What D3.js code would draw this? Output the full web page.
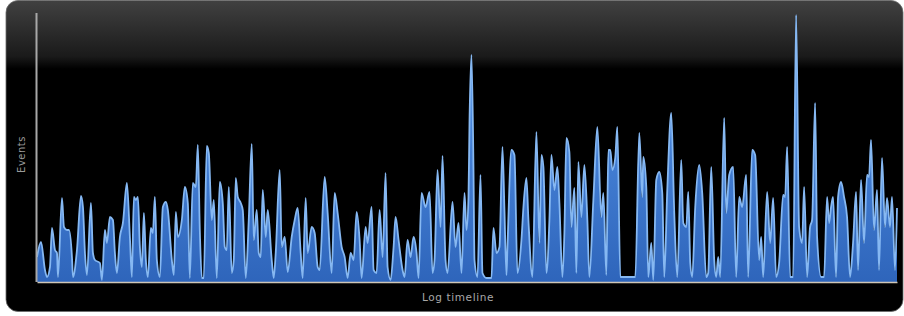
<!DOCTYPE html>
<html>
<head>
<meta charset="utf-8">
<script src="https://cdn.jsdelivr.net/npm/d3@7"></script>
<style>
  html, body { margin: 0; padding: 0; background: #ffffff; }
  #chart { width: 904px; height: 316px; }
</style>
</head>
<body>
<div id="chart"></div>
<script>
// position on the log timeline
const logTime = [
  0, 4, 8, 10, 13, 15, 18, 20, 21, 25, 27, 30, 32, 35, 36, 40, 44, 46, 48, 50,
  54, 56, 58, 63, 65, 68, 70, 73, 76, 78, 80, 83, 86, 90, 93, 95, 97, 99, 101, 103,
  105, 107, 109, 111, 114, 116, 118, 120, 123, 126, 129, 131, 135, 137, 139, 141, 145, 148, 151, 153,
  156, 159, 161, 163, 165, 167, 170, 172, 175, 177, 180, 183, 186, 188, 190, 192, 195, 197, 199, 201,
  204, 206, 209, 212, 215, 217, 220, 222, 224, 226, 229, 231, 235, 237, 239, 243, 245, 248, 251, 255,
  258, 261, 264, 266, 269, 271, 275, 278, 281, 283, 288, 291, 295, 298, 301, 305, 308, 311, 314, 317,
  320, 323, 325, 329, 331, 335, 337, 340, 343, 346, 349, 351, 354, 357, 359, 362, 366, 368, 371, 374,
  377, 380, 382, 385, 389, 393, 396, 398, 401, 404, 406, 409, 411, 416, 419, 422, 425, 428, 430, 432,
  433, 435, 437, 438, 441, 444, 446, 450, 455, 457, 460, 463, 466, 468, 470, 471, 475, 478, 481, 485,
  487, 490, 492, 496, 500, 503, 505, 507, 510, 513, 515, 518, 521, 523, 526, 528, 530, 533, 535, 538,
  540, 542, 545, 548, 551, 553, 557, 561, 565, 567, 570, 572, 574, 576, 579, 581, 584, 599, 603, 606,
  607, 610, 612, 615, 617, 620, 623, 626, 628, 631, 635, 638, 641, 645, 647, 650, 652, 654, 656, 659,
  663, 666, 670, 672, 675, 678, 680, 682, 684, 688, 690, 693, 697, 700, 703, 706, 710, 712, 716, 719,
  723, 725, 727, 731, 734, 737, 740, 743, 747, 749, 751, 754, 757, 760, 763, 766, 768, 771, 774, 776,
  779, 781, 785, 788, 791, 793, 795, 797, 800, 802, 805, 808, 811, 814, 817, 820, 822, 825, 828, 831,
  833, 835, 838, 841, 843, 846, 849, 851, 854, 856, 859, 861
];

// events counted at each position
const events = [
  25, 40, 12, 5, 15, 54, 32, 29, 5, 84, 55, 52, 52, 25, 5, 32, 86, 75, 29, 7,
  79, 29, 22, 19, 2, 52, 39, 65, 62, 29, 9, 45, 59, 99, 45, 5, 85, 82, 85, 35,
  15, 69, 22, 5, 54, 49, 85, 22, 5, 75, 80, 72, 22, 7, 70, 45, 62, 95, 79, 4,
  99, 95, 137, 52, 4, 4, 136, 129, 62, 82, 4, 100, 79, 35, 32, 95, 9, 22, 104, 85,
  79, 72, 4, 62, 138, 42, 72, 29, 25, 92, 45, 72, 22, 4, 29, 112, 35, 45, 10, 45,
  62, 74, 29, 4, 84, 29, 55, 49, 15, 12, 105, 69, 9, 89, 69, 35, 25, 4, 29, 22,
  70, 42, 4, 55, 39, 75, 12, 9, 72, 25, 109, 15, 2, 35, 65, 42, 12, 5, 42, 25,
  45, 29, 4, 89, 75, 90, 9, 22, 112, 55, 126, 22, 9, 80, 35, 59, 9, 89, 52, 85,
  159, 227, 112, 22, 5, 107, 9, 4, 4, 54, 29, 35, 135, 72, 7, 35, 132, 127, 9, 42,
  75, 104, 62, 5, 150, 39, 127, 115, 9, 62, 127, 92, 115, 79, 5, 49, 144, 130, 55, 94,
  9, 120, 65, 117, 62, 5, 82, 155, 65, 89, 7, 132, 132, 112, 125, 155, 5, 5, 149, 85,
  125, 95, 5, 39, 2, 102, 110, 89, 5, 92, 169, 69, 5, 122, 59, 55, 90, 19, 5, 75,
  117, 89, 5, 9, 115, 22, 5, 25, 5, 164, 69, 107, 115, 5, 85, 75, 107, 5, 132, 127,
  22, 45, 5, 90, 39, 84, 5, 19, 87, 85, 135, 5, 5, 267, 55, 39, 95, 5, 55, 62,
  179, 45, 5, 5, 85, 59, 75, 85, 5, 85, 100, 85, 65, 5, 39, 90, 12, 102, 39, 107,
  105, 142, 52, 92, 12, 124, 55, 84, 55, 85, 12, 74
];

const data = logTime.map((t, i) => ({ t: t, v: events[i] }));

const W = 904, H = 316;
const margin = { top: 15, right: 6, bottom: 34, left: 37 };
const width = W - margin.left - margin.right;
const height = H - margin.top - margin.bottom;

const svg = d3.select("#chart").append("svg")
  .attr("width", W)
  .attr("height", H)
  .style("font-family", "'DejaVu Sans', sans-serif");

const defs = svg.append("defs");

const bgGrad = defs.append("linearGradient")
  .attr("id", "bg-grad")
  .attr("x1", 0).attr("y1", 0).attr("x2", 0).attr("y2", 1);
bgGrad.append("stop").attr("offset", "0%").attr("stop-color", "#414141");
bgGrad.append("stop").attr("offset", "18%").attr("stop-color", "#1a1a1a");
bgGrad.append("stop").attr("offset", "22%").attr("stop-color", "#000000");
bgGrad.append("stop").attr("offset", "100%").attr("stop-color", "#000000");

const areaGrad = defs.append("linearGradient")
  .attr("id", "area-grad")
  .attr("gradientUnits", "userSpaceOnUse")
  .attr("x1", 0).attr("y1", margin.top).attr("x2", 0).attr("y2", margin.top + height);
areaGrad.append("stop").attr("offset", "0%").attr("stop-color", "#5898ec");
areaGrad.append("stop").attr("offset", "100%").attr("stop-color", "#2c62b8");

// panel
svg.append("rect")
  .attr("x", 6).attr("y", 0.5)
  .attr("width", 897).attr("height", 311)
  .attr("rx", 12)
  .attr("fill", "url(#bg-grad)")
  .attr("stroke", "#6a6a6a")
  .attr("stroke-width", 0.8);

const g = svg.append("g")
  .attr("transform", `translate(${margin.left},${margin.top})`);

const x = d3.scaleLinear()
  .domain([0, 861])
  .range([0, width - 1]);

const y = d3.scaleLinear()
  .domain([0, 267])
  .range([height, 0]);

const area = d3.area()
  .x(d => x(d.t))
  .y0(height)
  .y1(d => y(d.v))
  .curve(d3.curveMonotoneX);

const line = d3.line()
  .x(d => x(d.t))
  .y(d => y(d.v))
  .curve(d3.curveMonotoneX);

g.append("path")
  .datum(data)
  .attr("d", area)
  .attr("fill", "url(#area-grad)");

g.append("path")
  .datum(data)
  .attr("d", line)
  .attr("fill", "none")
  .attr("stroke", "#86b8f2")
  .attr("stroke-width", 1.8)
  .attr("stroke-linejoin", "round");

// axes: lines only, no ticks
const yAxis = g.append("g")
  .call(d3.axisLeft(y).ticks(0).tickSizeOuter(0));
yAxis.select(".domain")
  .attr("stroke", "#a8a8a8")
  .attr("stroke-width", 2)
  .attr("d", `M-0.5,${height}V-2`);

const xAxis = g.append("g")
  .attr("transform", `translate(0,${height})`)
  .call(d3.axisBottom(x).ticks(0).tickSizeOuter(0));
xAxis.select(".domain")
  .attr("stroke", "#cfc6b6")
  .attr("stroke-width", 1.6);

svg.append("text")
  .attr("transform", `translate(25,${margin.top + height / 2 + 6}) rotate(-90)`)
  .attr("text-anchor", "middle")
  .attr("fill", "#9a9a9a")
  .attr("font-size", 10)
  .attr("letter-spacing", 0.5)
  .text("Events");

svg.append("text")
  .attr("x", 458)
  .attr("y", 301)
  .attr("text-anchor", "middle")
  .attr("fill", "#a8a8a8")
  .attr("font-size", 10.5)
  .attr("letter-spacing", 0.6)
  .text("Log timeline");
</script>
</body>
</html>
